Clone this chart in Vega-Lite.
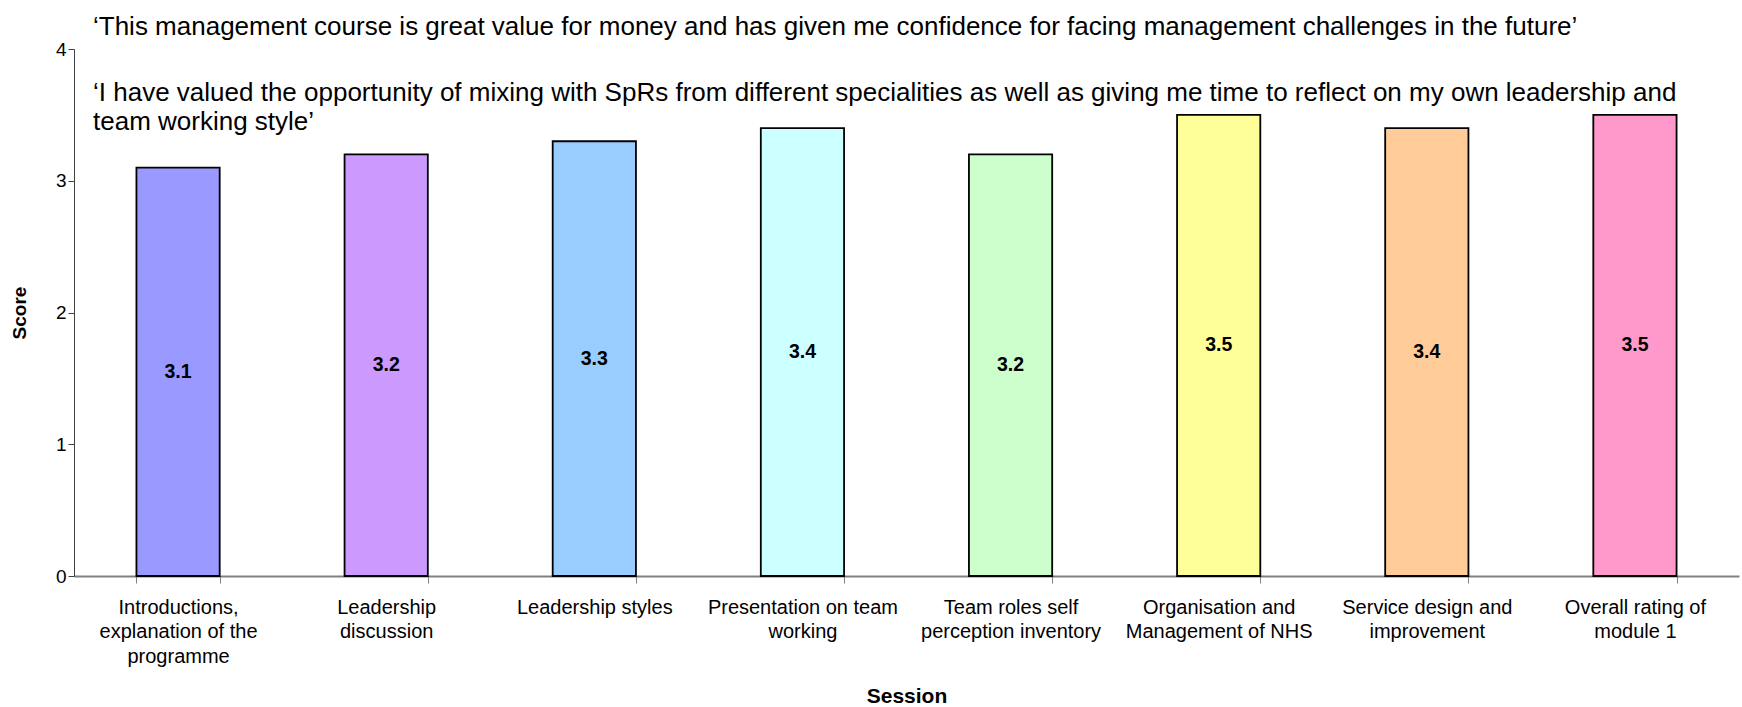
{
  "$schema": "https://vega.github.io/schema/vega-lite/v6.json",
  "width": 1665,
  "height": 527,
  "autosize": {"type": "none"},
  "padding": {"left": 74, "top": 49, "right": 3, "bottom": 131},
  "background": "white",
  "config": {"view": {"stroke": null}, "font": "Liberation Sans"},
  "title": {
    "text": "‘This management course is great value for money and has given me confidence for facing management challenges in the future’",
    "subtitle": ["‘I have valued the opportunity of mixing with SpRs from different specialities as well as giving me time to reflect on my own leadership and", "team working style’"],
    "anchor": "start",
    "frame": "group",
    "orient": "top",
    "offset": -95,
    "dx": 19,
    "font": "Liberation Sans",
    "fontSize": 26,
    "fontWeight": "normal",
    "color": "black",
    "subtitleFont": "Liberation Sans",
    "subtitleFontSize": 26,
    "subtitleColor": "black",
    "subtitlePadding": 40,
    "subtitleLineHeight": 29
  },
  "data": {
    "values": [
      {"session": "Introductions,\nexplanation of the\nprogramme", "score": 3.1},
      {"session": "Leadership\ndiscussion", "score": 3.2},
      {"session": "Leadership styles", "score": 3.3},
      {"session": "Presentation on team\nworking", "score": 3.4},
      {"session": "Team roles self\nperception inventory", "score": 3.2},
      {"session": "Organisation and\nManagement of NHS", "score": 3.5},
      {"session": "Service design and\nimprovement", "score": 3.4},
      {"session": "Overall rating of\nmodule 1", "score": 3.5}
    ]
  },
  "encoding": {
    "x": {
      "field": "session",
      "type": "nominal",
      "sort": null,
      "scale": {"paddingInner": 0.6, "paddingOuter": 0.3},
      "axis": {
        "title": "Session",
        "labelAngle": 0,
        "labelExpr": "split(datum.label, '\\n')",
        "labelFont": "Liberation Sans",
        "labelFontSize": 20,
        "labelLineHeight": 24.5,
        "labelColor": "black",
        "labelPadding": 14,
        "labelLimit": 300,
        "tickBand": "extent",
        "tickSize": 7,
        "tickColor": "#808080",
        "domainColor": "#808080",
        "domainWidth": 2,
        "titleFont": "Liberation Sans",
        "titleFontSize": 21,
        "titleFontWeight": "bold",
        "titleColor": "black",
        "titlePadding": 19
      }
    }
  },
  "layer": [
    {
      "mark": {"type": "bar", "stroke": "black", "strokeWidth": 1.8},
      "encoding": {
        "y": {
          "field": "score",
          "type": "quantitative",
          "scale": {"domain": [0, 4]},
          "axis": {
            "title": "Score",
            "values": [0, 1, 2, 3, 4],
            "grid": false,
            "tickSize": 6,
            "tickColor": "#404040",
            "domainColor": "#404040",
            "labelFont": "Liberation Sans",
            "labelFontSize": 19,
            "labelColor": "black",
            "labelPadding": 2,
            "titleFont": "Liberation Sans",
            "titleFontSize": 19,
            "titleFontWeight": "bold",
            "titleColor": "black",
            "titlePadding": 26
          }
        },
        "color": {
          "field": "session",
          "type": "nominal",
          "sort": null,
          "scale": {"range": ["#9999FF", "#CC99FF", "#99CCFF", "#CCFFFF", "#CCFFCC", "#FFFF99", "#FFCC99", "#FF99CC"]},
          "legend": null
        }
      }
    },
    {
      "mark": {"type": "text", "font": "Liberation Sans", "fontSize": 19.5, "fontWeight": "bold", "color": "black", "baseline": "middle"},
      "encoding": {
        "y": {"field": "score", "type": "quantitative", "scale": {"domain": [0, 8]}, "axis": null},
        "text": {"field": "score", "type": "quantitative", "format": ".1f"}
      }
    }
  ],
  "resolve": {"scale": {"y": "independent"}}
}
